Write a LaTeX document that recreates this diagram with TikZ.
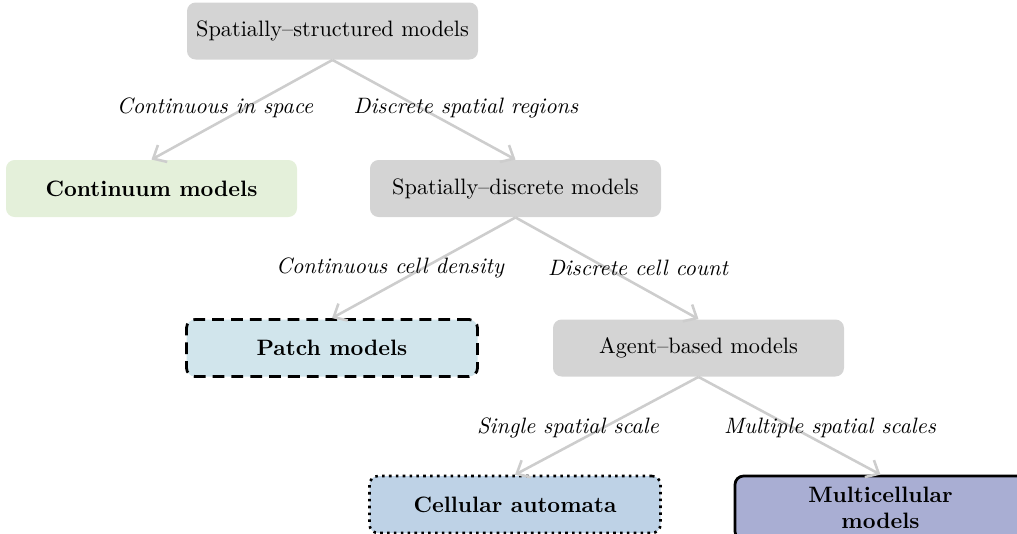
\documentclass[tikz,border=0pt]{standalone}
\usetikzlibrary{arrows.meta}
\definecolor{boxgray}{HTML}{D4D4D4}
\definecolor{contgreen}{HTML}{E4F0DA}
\definecolor{patchblue}{HTML}{D1E5EC}
\definecolor{cellblue}{HTML}{BED2E6}
\definecolor{multiblue}{HTML}{A9AED3}
\definecolor{edgegray}{HTML}{CDCDCD}
\begin{document}
\begin{tikzpicture}[x=0.467pt,y=-0.467pt,
  every node/.style={font=\fontsize{10.4}{12.4}\selectfont},
  box/.style={rounded corners=4pt, minimum width=291*0.467pt, minimum height=57*0.467pt, inner sep=0pt, align=center},
  graybox/.style={box, fill=boxgray},
  edge/.style={draw=edgegray, line width=1.2pt, -{Straight Barb[length=5pt,width=9pt,line width=1.2pt]}},
  lbl/.style={font=\fontsize{10.4}{12.8}\selectfont\itshape}]
\useasboundingbox (0,0) rectangle (1017,533);
\node[graybox] (root) at (332.5,31) {Spatially--structured models};
\node[box, fill=contgreen] (cont) at (151.5,188.5) {\bfseries Continuum models};
\node[graybox] (sdisc) at (515.5,188.5) {Spatially--discrete models};
\node[box, fill=patchblue, draw=black, line width=1.3pt, dash pattern=on 5.5pt off 3.3pt] (patch) at (332,348) {\bfseries Patch models};
\node[graybox] (agent) at (698.5,348) {Agent--based models};
\node[box, fill=cellblue, draw=black, line width=1.2pt, dotted] (cell) at (515,504.5) {\bfseries Cellular automata};
\node[box, fill=multiblue, draw=black, line width=1.3pt, minimum height=64*0.467pt] (multi) at (880.5,508) {\bfseries Multicellular\\\bfseries models};
\draw[edge] (root.south) -- (cont.north);
\draw[edge] (root.south) -- (sdisc.north);
\draw[edge] (sdisc.south) -- (patch.north);
\draw[edge] (sdisc.south) -- (agent.north);
\draw[edge] (agent.south) -- (cell.north);
\draw[edge] (agent.south) -- (multi.north);
\node[lbl] (l1) at (215,108) {Continuous in space};
\node[lbl] (l2) at (466,108) {Discrete spatial regions};
\node[lbl] (l3) at (390,268) {Continuous cell density};
\node[lbl] (l4) at (638,268) {Discrete cell count};
\node[lbl] (l5) at (568,428) {Single spatial scale};
\node[lbl] (l6) at (830,428) {Multiple spatial scales};
\end{tikzpicture}
\end{document}
